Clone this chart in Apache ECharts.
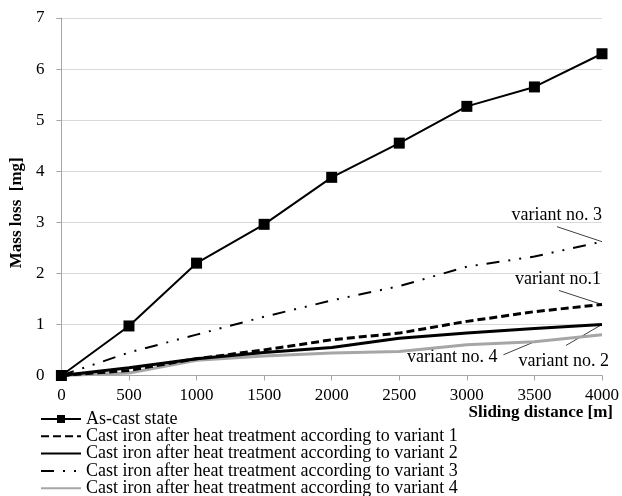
<!DOCTYPE html>
<html>
<head>
<meta charset="utf-8">
<script src="https://cdn.jsdelivr.net/npm/echarts@6/dist/echarts.min.js"></script>
<style>
    html, body { margin: 0; padding: 0; background: #fff; }
    #chart_wear { width: 622px; height: 496px; }
</style>
</head>
<body>
<div id="chart_wear"></div>
<script>
// sliding distance [m]
var distances = [0, 500, 1000, 1500, 2000, 2500, 3000, 3500, 4000];
// mass loss [mg]
var as_cast = [0, 0.97, 2.2, 2.96, 3.88, 4.55, 5.27, 5.65, 6.3];
var variant_1 = [0, 0.1, 0.33, 0.5, 0.7, 0.83, 1.06, 1.25, 1.39];
var variant_2 = [0, 0.15, 0.33, 0.45, 0.55, 0.73, 0.83, 0.92, 1.0];
var variant_3 = [0, 0.45, 0.8, 1.15, 1.47, 1.75, 2.13, 2.33, 2.62];
var variant_4 = [0, 0.05, 0.3, 0.38, 0.44, 0.47, 0.6, 0.66, 0.8];

var series_names = [
    'As-cast state',
    'Cast iron after heat treatment according to variant 1',
    'Cast iron after heat treatment according to variant 2',
    'Cast iron after heat treatment according to variant 3',
    'Cast iron after heat treatment according to variant 4'
];
var note_texts = ['variant no. 3', 'variant no.1', 'variant no. 2', 'variant no. 4'];

var FONT = 'Liberation Serif';

function pairs(values) {
    var out = [];
    for (var i = 0; i < distances.length; i = i + 1) {
        out.push([distances[i], values[i]]);
    }
    return out;
}

// legend: only the as-cast entry keeps its marker, the others show just the line
var legend_items = [];
for (var i = 0; i < series_names.length; i = i + 1) {
    legend_items.push(i === 0 ? {name: series_names[i]}
                              : {name: series_names[i], itemStyle: {opacity: 0}});
}

var chart_wear = echarts.init(document.getElementById('chart_wear'));
chart_wear.setOption(option = {
    backgroundColor: '#fff',
    animation: false,
    textStyle: { fontFamily: FONT },
    grid: { left: 56, right: 19, top: 18, bottom: 120.5 },
    legend: {
        orient: 'vertical',
        left: 40,
        top: 410,
        height: 120,
        padding: 0,
        itemWidth: 40,
        itemHeight: 10,
        itemGap: -0.7,
        textStyle: { fontFamily: FONT, fontSize: 18, lineHeight: 17, color: '#000' },
        data: legend_items
    },
    xAxis: {
        type: 'value',
        min: 0,
        max: 4000,
        interval: 500,
        name: 'Sliding distance [m]',
        nameLocation: 'end',
        nameGap: 11,
        nameTextStyle: {
            fontFamily: FONT, fontSize: 17, fontWeight: 'bold', color: '#000',
            align: 'right', verticalAlign: 'top', padding: [29, 0, 0, 0]
        },
        axisLine: { lineStyle: { color: '#a6a6a6', width: 1 } },
        axisTick: { show: true, length: 5, lineStyle: { color: '#a6a6a6' } },
        axisLabel: {
            fontFamily: FONT, fontSize: 17, color: '#000', margin: 12,
            formatter: function (v) { return String(v); }
        },
        splitLine: { show: false }
    },
    yAxis: {
        type: 'value',
        min: 0,
        max: 7,
        interval: 1,
        name: 'Mass loss  [mg]',
        nameLocation: 'middle',
        nameGap: 28,
        nameRotate: 90,
        nameTextStyle: {
            fontFamily: FONT, fontSize: 17, fontWeight: 'bold', color: '#000',
            padding: [0, 32, 0, 0]
        },
        axisLine: { show: true, lineStyle: { color: '#a6a6a6', width: 1 } },
        axisTick: { show: true, length: 5, lineStyle: { color: '#a6a6a6' } },
        axisLabel: { fontFamily: FONT, fontSize: 17, color: '#000', margin: 17 },
        splitLine: { lineStyle: { color: '#d9d9d9', width: 1 } }
    },
    series: [
        {
            name: series_names[4],
            type: 'line',
            data: pairs(variant_4),
            symbol: 'none',
            z: 2,
            itemStyle: { color: '#a6a6a6' },
            lineStyle: { color: '#a6a6a6', width: 3 }
        },
        {
            name: series_names[2],
            type: 'line',
            data: pairs(variant_2),
            symbol: 'none',
            z: 3,
            itemStyle: { color: '#000' },
            lineStyle: { color: '#000', width: 3 }
        },
        {
            name: series_names[1],
            type: 'line',
            data: pairs(variant_1),
            symbol: 'none',
            z: 4,
            itemStyle: { color: '#000' },
            lineStyle: { color: '#000', width: 3, type: [8, 4] }
        },
        {
            name: series_names[3],
            type: 'line',
            data: pairs(variant_3),
            symbol: 'none',
            z: 5,
            itemStyle: { color: '#000' },
            lineStyle: { color: '#000', width: 2, type: [13, 9, 2, 9, 2, 9] }
        },
        {
            name: series_names[0],
            type: 'line',
            data: pairs(as_cast),
            symbol: 'rect',
            symbolSize: 11,
            z: 6,
            itemStyle: { color: '#000' },
            lineStyle: { color: '#000', width: 2 }
        }
    ]
});

// callouts next to the line ends, anchored on data points
function px(values, i) {
    return chart_wear.convertToPixel({gridIndex: 0}, [distances[i], values[i]]);
}
function note(text, anchor, tx, ty, align, lx, ly) {
    return [
        {
            type: 'text',
            x: anchor[0] + tx,
            y: anchor[1] + ty,
            style: {
                text: text, fontFamily: FONT, fontSize: 18, fill: '#000',
                align: align, verticalAlign: 'middle'
            }
        },
        {
            type: 'line',
            shape: { x1: anchor[0] + lx, y1: anchor[1] + ly, x2: anchor[0], y2: anchor[1] },
            style: { stroke: '#404040', lineWidth: 1 }
        }
    ];
}
var last = distances.length - 1;
var notes = []
    .concat(note(note_texts[0], px(variant_3, last), 0, -26, 'right', -45, -15))
    .concat(note(note_texts[1], px(variant_1, last), -1, -25, 'right', -43, -14))
    .concat(note(note_texts[2], px(variant_2, last), 7, 37, 'right', -36, 21))
    .concat(note(note_texts[3], px(variant_4, last - 1), -37, 15, 'right', -31, 13));
chart_wear.setOption({ graphic: notes });
</script>
</body>
</html>
